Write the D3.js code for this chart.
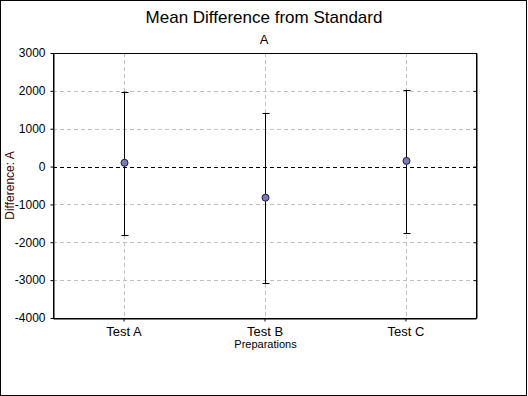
<!DOCTYPE html>
<html>
<head>
<meta charset="utf-8">
<script src="https://cdn.jsdelivr.net/npm/d3@7"></script>
<style>
  body { margin: 0; background: #fff; }
  svg { display: block; font-family: Arial, "Liberation Sans", sans-serif; }
</style>
</head>
<body>
<div id="chart"></div>
<script>
// data
const categories = ['Test A', 'Test B', 'Test C']
const means = [100, -820, 150]
const upper = [1980, 1420, 2030]
const lower = [-1810, -3080, -1760]
const yTicks = [3000, 2000, 1000, 0, -1000, -2000, -3000, -4000]

const width = 528
const height = 396
const margin = { top: 53, right: 52, bottom: 78, left: 53 }
const font = 'Arial, "Liberation Sans", sans-serif'

const svg = d3.select('#chart').append('svg').attr('width', width).attr('height', height)

svg.append('rect')
  .attr('x', 0.5).attr('y', 0.5)
  .attr('width', width - 2).attr('height', height - 1)
  .attr('fill', '#fff').attr('stroke', '#000')

const x = d3.scaleLinear()
  .domain([-0.5, categories.length - 0.5])
  .range([margin.left, width - margin.right])
const y = d3.scaleLinear()
  .domain([-4000, 3000])
  .range([height - margin.bottom, margin.top])

const px = (v) => Math.round(v) + 0.5

// grid
const grid = svg.append('g').attr('stroke-width', 1).attr('fill', 'none')
grid.selectAll('line.h')
  .data(yTicks.filter((t) => t !== 3000 && t !== -4000 && t !== 0))
  .join('line')
  .attr('x1', x(-0.5)).attr('x2', x(2.5))
  .attr('y1', (d) => px(y(d))).attr('y2', (d) => px(y(d)))
  .attr('stroke', '#c0c0c0').attr('stroke-dasharray', '4,3')
grid.selectAll('line.v')
  .data(categories)
  .join('line')
  .attr('x1', (d, i) => px(x(i))).attr('x2', (d, i) => px(x(i)))
  .attr('y1', y(3000)).attr('y2', y(-4000))
  .attr('stroke', '#c0c0c0').attr('stroke-dasharray', '4,3')
grid.append('line')
  .attr('x1', x(-0.5)).attr('x2', x(2.5))
  .attr('y1', px(y(0))).attr('y2', px(y(0)))
  .attr('stroke', '#000').attr('stroke-dasharray', '4,3')

// axes
const yAxis = d3.axisLeft(y).tickValues(yTicks).tickSize(3).tickSizeOuter(0).tickPadding(5)
  .tickFormat((d) => String(d))
svg.append('g')
  .attr('transform', `translate(${px(x(-0.5))},0)`)
  .call(yAxis)
  .call((g) => g.selectAll('text').attr('font-size', 12).attr('fill', '#000').attr('font-family', font))

const yRight = d3.axisLeft(y).tickValues(yTicks).tickSize(3).tickSizeOuter(0).tickFormat('')
svg.append('g')
  .attr('transform', `translate(${px(x(2.5))},0)`)
  .call(yRight)

const xAxis = d3.axisBottom(x).tickValues(d3.range(categories.length))
  .tickFormat((i) => categories[i]).tickSize(3).tickSizeOuter(0).tickPadding(5)
svg.append('g')
  .attr('transform', `translate(0,${px(y(-4000))})`)
  .call(xAxis)
  .call((g) => g.selectAll('text').attr('font-size', 13).attr('fill', '#000').attr('font-family', font))

svg.append('rect')
  .attr('x', px(x(-0.5))).attr('y', px(y(3000)))
  .attr('width', Math.round(x(2.5)) - Math.round(x(-0.5)))
  .attr('height', Math.round(y(-4000)) - Math.round(y(3000)))
  .attr('fill', 'none').attr('stroke', '#000')

// error bars
const bars = svg.append('g').attr('stroke', '#000').attr('stroke-width', 1)
bars.selectAll('line.bar')
  .data(categories)
  .join('line')
  .attr('x1', (d, i) => px(x(i))).attr('x2', (d, i) => px(x(i)))
  .attr('y1', (d, i) => y(upper[i])).attr('y2', (d, i) => y(lower[i]))
bars.selectAll('line.capU')
  .data(categories)
  .join('line')
  .attr('x1', (d, i) => px(x(i)) - 3).attr('x2', (d, i) => px(x(i)) + 4)
  .attr('y1', (d, i) => px(y(upper[i]))).attr('y2', (d, i) => px(y(upper[i])))
bars.selectAll('line.capL')
  .data(categories)
  .join('line')
  .attr('x1', (d, i) => px(x(i)) - 3).attr('x2', (d, i) => px(x(i)) + 4)
  .attr('y1', (d, i) => px(y(lower[i]))).attr('y2', (d, i) => px(y(lower[i])))

svg.append('g').selectAll('circle')
  .data(categories)
  .join('circle')
  .attr('cx', (d, i) => px(x(i)))
  .attr('cy', (d, i) => y(means[i]))
  .attr('r', 3.5)
  .attr('fill', '#7b7bb8')
  .attr('stroke', '#1a1a3a')

// texts
svg.append('text')
  .attr('x', 264).attr('y', 23)
  .attr('text-anchor', 'middle').attr('font-size', 17)
  .text('Mean Difference from Standard')
svg.append('text')
  .attr('x', 264).attr('y', 44)
  .attr('text-anchor', 'middle').attr('font-size', 13)
  .text('A')
svg.append('text')
  .attr('x', px(x(1))).attr('y', 348)
  .attr('text-anchor', 'middle').attr('font-size', 11)
  .text('Preparations')
svg.append('text')
  .attr('transform', `translate(14,${(y(3000) + y(-4000)) / 2}) rotate(-90)`)
  .attr('text-anchor', 'middle').attr('font-size', 12)
  .attr('fill', '#400000')
  .text('Difference: A')
</script>
</body>
</html>
